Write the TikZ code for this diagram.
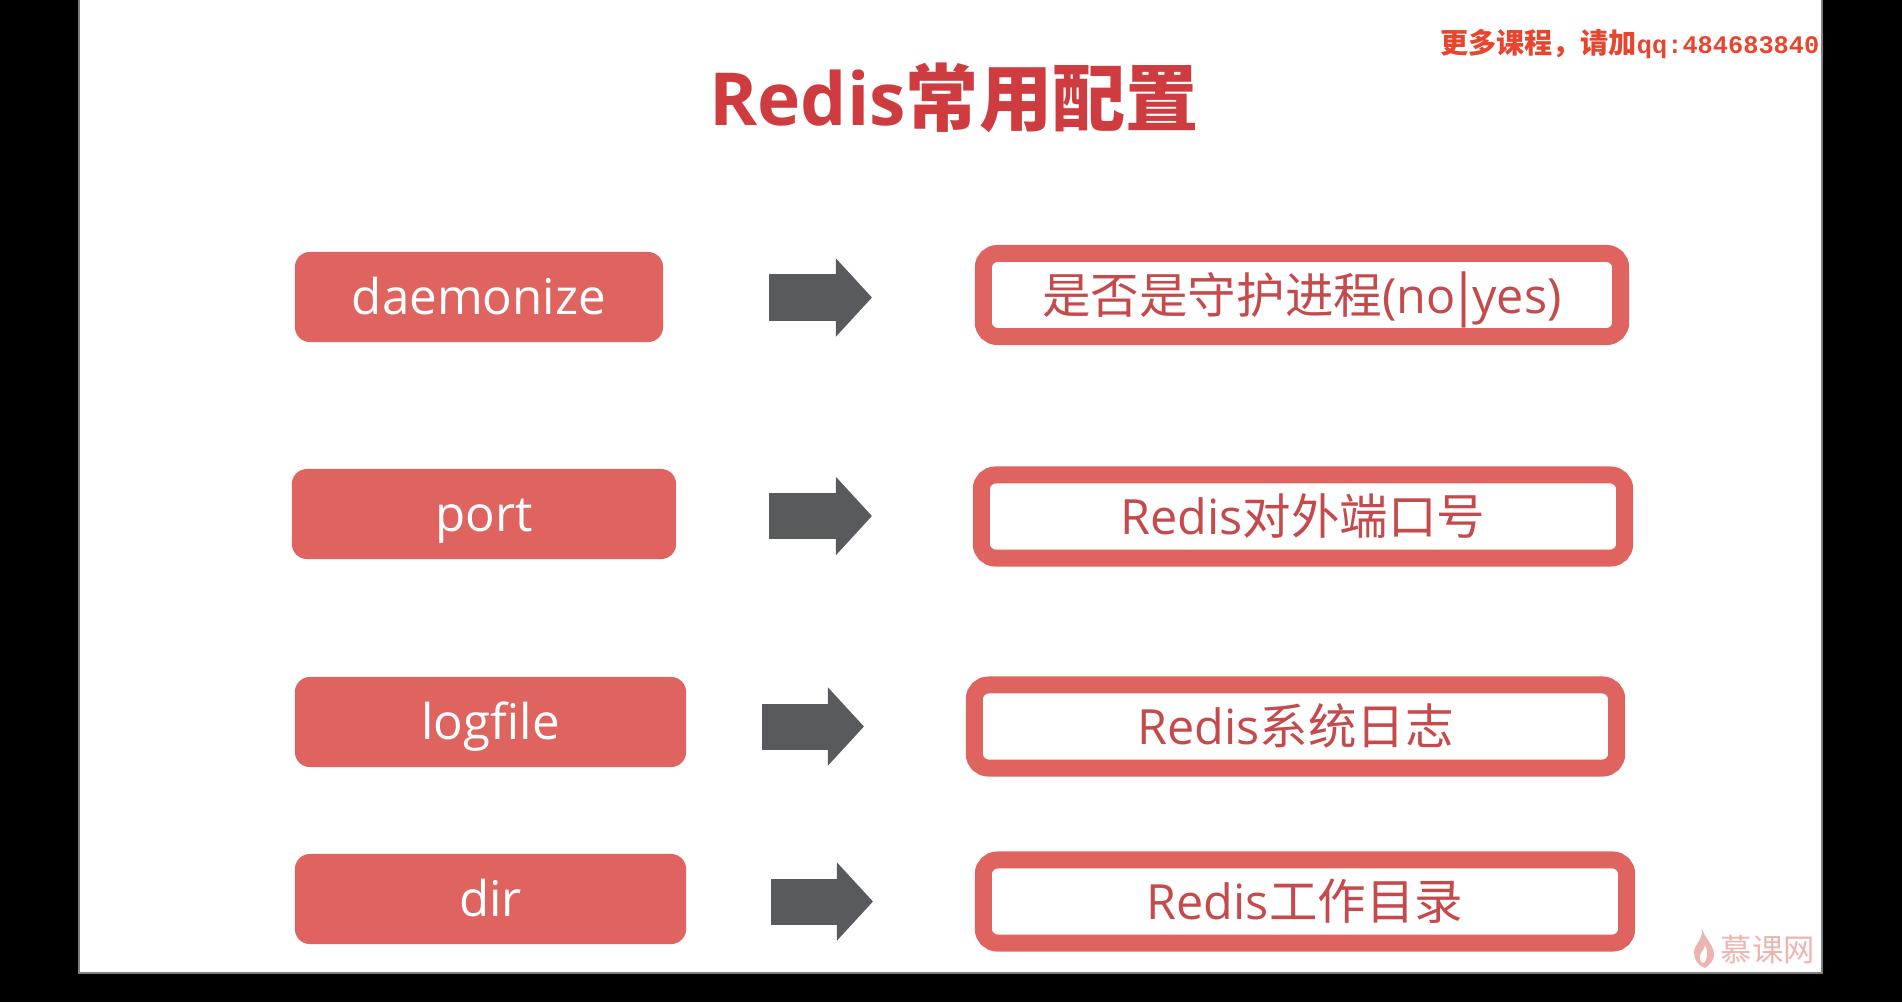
\documentclass[tikz,border=0pt]{standalone}
\usepackage{fontspec}
\usetikzlibrary{arrows.meta}
\setmainfont{Open Sans}
\newfontfamily\cjk{Noto Sans CJK SC}
\newfontfamily\markfont{Liberation Mono}

\definecolor{boxred}{HTML}{DF6460}
\definecolor{arrowgray}{HTML}{595A5D}
\definecolor{titlered}{HTML}{CF3C40}
\definecolor{markred}{HTML}{E8452F}
\definecolor{logopink}{HTML}{EDB5B0}
\definecolor{valuered}{HTML}{C44A4C}

\tikzset{
  keybox/.style={fill=boxred,rounded corners=0.15cm,minimum height=0.9cm,inner sep=0pt,text=white,text height=0.5cm,text depth=0.148cm,font=\fontsize{14}{16}\selectfont},
  valbox/.style={draw=boxred,fill=white,line width=0.17cm,rounded corners=0.14cm,minimum height=0.83cm,inner sep=0pt,text=valuered,text height=0.5cm,text depth=0.14cm,font=\fontsize{13.8}{16}\selectfont},
  blockarrow/.style={draw=arrowgray,line width=0.46cm,-{Triangle[length=0.36cm,width=0.76cm,fill=arrowgray]}},
}

\begin{document}
\begin{tikzpicture}[x=0.01cm,y=-0.01cm]
    \useasboundingbox (0,0) rectangle (1902,1002);
    \fill[black] (0,0) rectangle (1902,1002);
    \draw[fill=white,draw=gray,line width=0.3pt] (79,-2) rectangle (1822,973);

    \node[text=titlered,font=\fontsize{20.8}{24}\selectfont\bfseries] (title) at (954,98) {Redis{\cjk 常用配置}};
    \node[text=markred,font=\fontsize{8}{10}\selectfont,anchor=east,inner sep=0pt] (mark) at (1820,44) {{\cjk\bfseries 更多课程，请加}{\markfont\bfseries\fontsize{7.2}{10}\selectfont qq:484683840}};

    \node[keybox,minimum width=3.68cm] (daemonize) at (479,297) {daemonize};
    \node[keybox,minimum width=3.84cm] (port) at (484,514) {port};
    \node[keybox,minimum width=3.91cm] (logfile) at (490.5,722) {logfile};
    \node[keybox,minimum width=3.91cm] (dir) at (490.5,899) {dir};

    \node[valbox,minimum width=6.37cm] (daemonizeval) at (1302,295) {{\cjk 是否是守护进程}(no\kern-2pt\raisebox{-0.5pt}{\fontsize{16}{16}\selectfont|}\kern-2pt yes)};
    \node[valbox,minimum width=6.43cm] (portval) at (1303,516.5) {Redis{\cjk 对外端口号}};
    \node[valbox,minimum width=6.42cm] (logfileval) at (1295.5,726.5) {Redis{\cjk 系统日志}};
    \node[valbox,minimum width=6.43cm] (dirval) at (1305,901.5) {Redis{\cjk 工作目录}};

    \coordinate (a1) at (769,297.5);
    \coordinate (b1) at (872,297.5);
    \coordinate (a2) at (769,516);
    \coordinate (b2) at (872,516);
    \coordinate (a3) at (762,726.5);
    \coordinate (b3) at (864,726.5);
    \coordinate (a4) at (771,901.5);
    \coordinate (b4) at (873,901.5);

    \draw[blockarrow] (a1) -- (b1);
    \draw[blockarrow] (a2) -- (b2);
    \draw[blockarrow] (a3) -- (b3);
    \draw[blockarrow] (a4) -- (b4);

    % flame
    \fill[logopink,even odd rule] (1702,929) .. controls (1706,940) and (1714,945) .. (1714,955)
        .. controls (1714,961) and (1709,965) .. (1705,968)
        .. controls (1697,965) and (1694,959) .. (1694,952)
        .. controls (1694,945) and (1703,940) .. (1702,929) -- cycle
        (1705,945) .. controls (1704,951) and (1698,954) .. (1700,960)
        .. controls (1701,963) and (1703,963) .. (1704,963)
        .. controls (1707,960) and (1709,953) .. (1705,945) -- cycle;
    \node[text=logopink,font=\fontsize{8.9}{10}\cjk,anchor=west,inner sep=0pt] (logo) at (1720,950) {慕课网};
\end{tikzpicture}
\end{document}
